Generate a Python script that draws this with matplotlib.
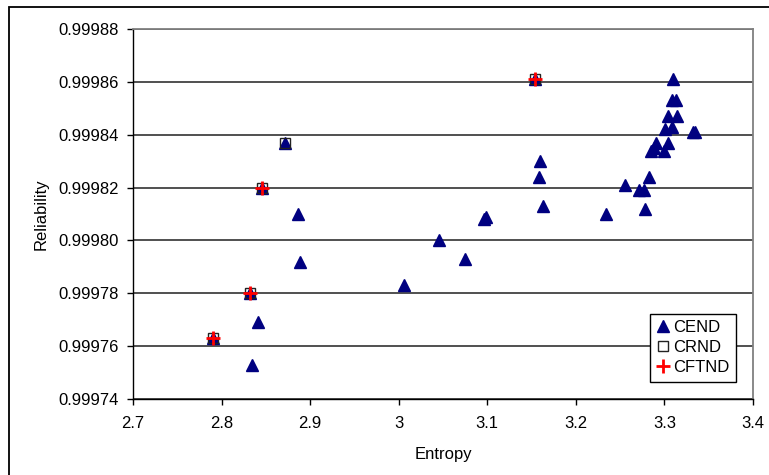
import matplotlib
matplotlib.use("Agg")
import matplotlib.pyplot as plt
from matplotlib.patches import Rectangle
from matplotlib.ticker import FormatStrFormatter, FuncFormatter

plt.rcParams['font.family'] = ['Liberation Sans', 'DejaVu Sans']

# CEND (triangles)
cend_x = [2.790, 2.832, 2.834, 2.841, 2.846, 2.872, 2.886, 2.889, 3.006, 3.046,
          3.075, 3.096, 3.098, 3.154, 3.158, 3.159, 3.163, 3.234, 3.256, 3.271,
          3.277, 3.278, 3.283, 3.285, 3.288, 3.290, 3.299, 3.301, 3.304, 3.304,
          3.308, 3.308, 3.310, 3.313, 3.314, 3.332, 3.334]
cend_y = [0.999763, 0.999780, 0.999753, 0.999769, 0.999820, 0.999837, 0.999810,
          0.999792, 0.999783, 0.999800, 0.999793, 0.999808, 0.999809, 0.999861,
          0.999824, 0.999830, 0.999813, 0.999810, 0.999821, 0.999819, 0.999819,
          0.999812, 0.999824, 0.999834, 0.999835, 0.999837, 0.999834, 0.999842,
          0.999847, 0.999837, 0.999843, 0.999853, 0.999861, 0.999853, 0.999847,
          0.999841, 0.999841]

# CRND (squares)
crnd_x = [2.790, 2.832, 2.846, 2.872, 3.154]
crnd_y = [0.999763, 0.999780, 0.999820, 0.999837, 0.999861]

# CFTND (crosses)
cftnd_x = [2.790, 2.832, 2.846, 3.154]
cftnd_y = [0.999763, 0.999780, 0.999820, 0.999861]

x_ticks = [2.7, 2.8, 2.9, 3.0, 3.1, 3.2, 3.3, 3.4]
y_ticks = [0.99974, 0.99976, 0.99978, 0.99980, 0.99982, 0.99984, 0.99986, 0.99988]

fig = plt.figure(figsize=(7.69, 4.75), dpi=100)
ax = fig.add_axes([133/769, 1 - 399/475, 620/769, 370/475])

ax.plot(cend_x, cend_y, linestyle='none', marker='^', ms=8.5,
        color='#000080', mec='#000080', label='CEND', zorder=3)
ax.plot(crnd_x, crnd_y, linestyle='none', marker='s', ms=7.5,
        mfc='none', mec='#222222', mew=1.0, label='CRND', zorder=4)
ax.plot(cftnd_x, cftnd_y, linestyle='none', marker='+', ms=10,
        color='#ff0000', mew=2.0, label='CFTND', zorder=5)

ax.set_xlim(2.7, 3.4)
ax.set_ylim(0.99974, 0.99988)
ax.set_xticks(x_ticks)
ax.set_yticks(y_ticks)
ax.yaxis.set_major_formatter(FormatStrFormatter('%.5f'))
ax.xaxis.set_major_formatter(FuncFormatter(lambda v, p: '%g' % round(v, 1)))
ax.tick_params(axis='both', direction='out', length=4, width=1, colors='black',
               labelsize=12)
ax.tick_params(axis='x', pad=8)
ax.tick_params(axis='y', pad=6)

ax.yaxis.grid(True, color='#202020', linewidth=1.1)
ax.set_axisbelow(True)
for s in ['left', 'bottom']:
    ax.spines[s].set_color('black')
    ax.spines[s].set_linewidth(1.0)
for s in ['top', 'right']:
    ax.spines[s].set_color('#808080')
    ax.spines[s].set_linewidth(1.3)

ax.set_xlabel('Entropy', fontsize=12, labelpad=12)
ax.set_ylabel('Reliability', fontsize=12, labelpad=7)

leg = ax.legend(loc='lower right', bbox_to_anchor=(0.9726, 0.046),
                borderaxespad=0, fontsize=12, frameon=True, fancybox=False,
                handlelength=0.8, handletextpad=0.2, borderpad=0.4,
                labelspacing=0.3, edgecolor='black', framealpha=1)
leg.get_frame().set_linewidth(1.0)

# chart border
fig.patches.append(Rectangle((9/769, -0.02), 1.1, 1 - 7/475 + 0.02,
                             transform=fig.transFigure, fill=False,
                             edgecolor='black', linewidth=1.3))

fig.savefig('out.png', dpi=100)
